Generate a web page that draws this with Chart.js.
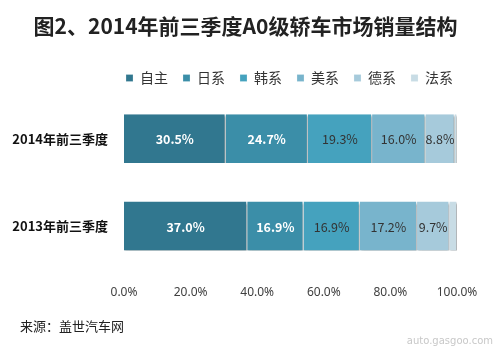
<!DOCTYPE html>
<html>
<head>
<meta charset="utf-8">
<script src="https://cdn.jsdelivr.net/npm/chart.js@4/dist/chart.umd.min.js"></script>
<style>
    html, body { margin: 0; padding: 0; background: #fff; }
    #wrap { position: relative; width: 500px; height: 348px; }
</style>
</head>
<body>
<div id="wrap"><canvas id="chart" width="500" height="348"></canvas></div>
<script>
// ── data ──
const chartTitle = '图2、2014年前三季度A0级轿车市场销量结构';
const sourceNote = '来源：盖世汽车网';
const periods = ['2014年前三季度', '2013年前三季度'];
const brands = ['自主', '日系', '韩系', '美系', '德系', '法系'];
const share2014 = [30.5, 24.7, 19.3, 16.0, 8.8, 0.7];
const share2013 = [37.0, 16.9, 16.9, 17.2, 9.7, 2.3];
const xTicks = [0, 20, 40, 60, 80, 100];

const colors = ['#31778f', '#3b8ea8', '#45a2be', '#78b4cc', '#a6cadb', '#c8dce5'];
const labelColors = ['#ffffff', '#ffffff', '#333333', '#333333', '#333333', null];
const CJK = '"Noto Sans CJK SC", "Noto Sans", sans-serif';

const datasets = brands.map((b, i) => ({
    label: b,
    data: [share2014[i], share2013[i]],
    backgroundColor: colors[i],
    borderColor: '#eef5f8',
    borderWidth: { left: 0, top: 0, bottom: 0, right: 1 },
    borderSkipped: false,
    barPercentage: 0.56,
    categoryPercentage: 1,
}));

// soft shadow under the bars
const barShadow = {
    id: 'barShadow',
    beforeDatasetsDraw(chart) {
        const ctx = chart.ctx;
        ctx.save();
        ctx.shadowColor = 'rgba(0,0,0,0.35)';
        ctx.shadowOffsetX = 1;
        ctx.shadowOffsetY = 2;
        ctx.shadowBlur = 2;
    },
    afterDatasetsDraw(chart) {
        chart.ctx.restore();
    }
};

// value labels inside the segments
const segLabels = {
    id: 'segLabels',
    afterDatasetsDraw(chart) {
        const ctx = chart.ctx;
        ctx.save();
        ctx.textAlign = 'center';
        ctx.textBaseline = 'middle';
        chart.data.datasets.forEach((ds, i) => {
            if (!labelColors[i]) return;
            chart.getDatasetMeta(i).data.forEach((bar, j) => {
                const v = ds.data[j];
                const cx = (bar.x + bar.base) / 2;
                ctx.fillStyle = labelColors[i];
                ctx.font = (i < 2 ? 'bold ' : '') + '12.5px ' + CJK;
                ctx.fillText(v.toFixed(1) + '%', cx, bar.y + 1);
            });
        });
        ctx.restore();
    }
};

// heading (a bit off-centre, like the original), source note, watermark
const texts = {
    id: 'texts',
    afterDraw(chart) {
        const ctx = chart.ctx;
        ctx.save();
        ctx.textBaseline = 'middle';
        ctx.textAlign = 'center';
        ctx.fillStyle = '#222';
        ctx.font = 'bold 21px ' + CJK;
        ctx.fillText(chartTitle, 245.5, 26);
        ctx.textAlign = 'left';
        ctx.font = '13px ' + CJK;
        ctx.fillText(sourceNote, 20, 326);
        ctx.fillStyle = '#c8c8c8';
        ctx.font = '10px "DejaVu Sans", sans-serif';
        ctx.textAlign = 'right';
        ctx.fillText('auto.gasgoo.com', 493, 341);
        ctx.restore();
    }
};

new Chart(document.getElementById('chart'), {
    type: 'bar',
    data: { labels: periods, datasets },
    plugins: [barShadow, segLabels, texts],
    options: {
        indexAxis: 'y',
        responsive: false,
        animation: false,
        layout: { padding: { top: 56, left: 0, right: 32, bottom: 40 } },
        plugins: {
            legend: {
                position: 'top',
                align: 'end',
                labels: {
                    boxWidth: 7,
                    boxHeight: 7,
                    padding: 15,
                    color: '#333',
                    font: { family: CJK, size: 14 },
                },
            },
            tooltip: { enabled: false },
        },
        scales: {
            x: {
                stacked: true,
                min: 0,
                max: 100,
                grid: { display: false },
                border: { display: false },
                afterBuildTicks: s => { s.ticks = xTicks.map(v => ({ value: v })); },
                ticks: {
                    color: '#404040',
                    padding: 8,
                    font: { family: '"Noto Sans", sans-serif', size: 12 },
                    callback: v => v.toFixed(1) + '%',
                },
            },
            y: {
                stacked: true,
                grid: { display: false },
                border: { display: false },
                afterFit: s => { s.width = 124; },
                ticks: {
                    color: '#111',
                    padding: 8,
                    font: { family: CJK, size: 13, weight: 'bold' },
                },
            },
            yRight: {
                position: 'right',
                display: true,
                grid: { display: false },
                border: { display: false },
                ticks: { display: false },
                afterFit: s => { s.width = 11; },
            },
        },
    },
});
</script>
</body>
</html>
